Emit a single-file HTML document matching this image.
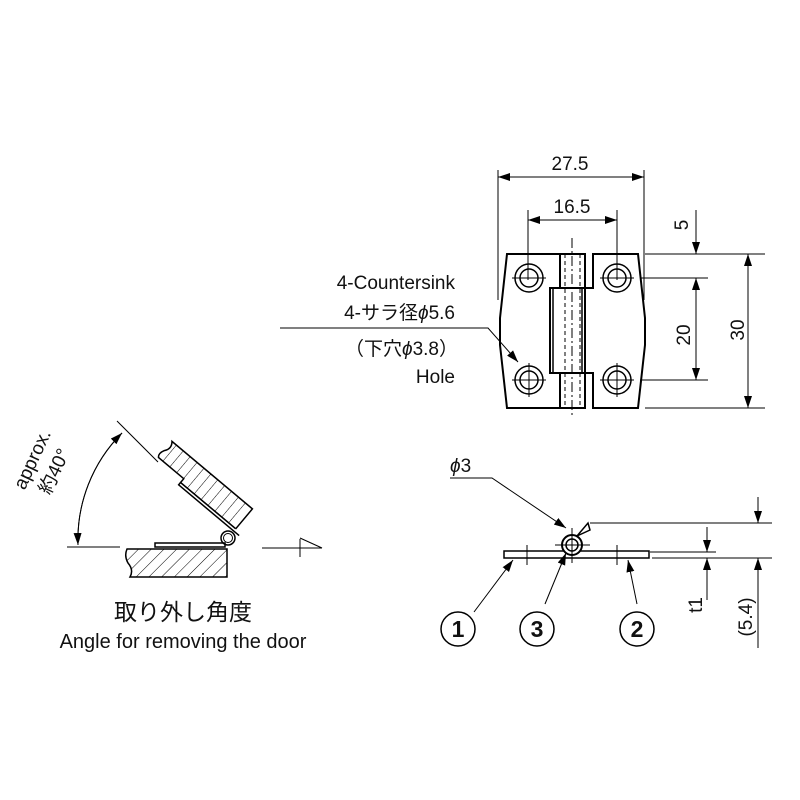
<!DOCTYPE html>
<html><head><meta charset="utf-8"><style>
html,body{margin:0;padding:0;background:#fff;}
svg{display:block;}
text{font-family:"Liberation Sans","Noto Sans CJK JP",sans-serif;fill:#111;}
</style></head><body>
<svg width="800" height="800" viewBox="0 0 800 800" xmlns="http://www.w3.org/2000/svg">
<defs>
<marker id="ar" markerWidth="12" markerHeight="8" refX="12" refY="4" orient="auto" markerUnits="userSpaceOnUse"><path d="M0,0 L12,4 L0,8 Z" fill="#000"/></marker>
<pattern id="hb" patternUnits="userSpaceOnUse" width="9" height="9" patternTransform="rotate(45)"><line x1="0" y1="0" x2="0" y2="9" stroke="#000" stroke-width="1"/></pattern>
<pattern id="hd" patternUnits="userSpaceOnUse" width="9" height="9" patternTransform="rotate(0)"><line x1="0" y1="0" x2="0" y2="9" stroke="#000" stroke-width="1"/></pattern>
</defs>
<g fill="none" stroke="#000" stroke-width="1">
<line x1="498" y1="170" x2="498" y2="300"/>
<line x1="644" y1="170" x2="644" y2="300"/>
<line x1="528" y1="210" x2="528" y2="280"/>
<line x1="617" y1="210" x2="617" y2="280"/>
<line x1="528" y1="220" x2="617" y2="220" marker-end="url(#ar)"/>
<line x1="617" y1="220" x2="528" y2="220" marker-end="url(#ar)"/>
<line x1="498" y1="177" x2="644" y2="177" marker-end="url(#ar)"/>
<line x1="644" y1="177" x2="498" y2="177" marker-end="url(#ar)"/>
<path stroke-width="2" d="M507,254 L560,254 L560,288 L550,288 L550,373 L560,373 L560,408 L507,408 L500,345 L500,318 Z"/>
<path stroke-width="2" d="M593,254 L638,254 L645,318 L645,345 L638,408 L593,408 L593,373 L585,373 L585,288 L593,288 Z"/>
<rect stroke-width="2" x="560" y="254" width="25" height="34"/>
<rect stroke-width="2" x="560" y="373" width="25" height="35"/>
<rect stroke-width="1.5" x="553" y="288" width="29" height="85"/>
<line x1="565" y1="254" x2="565" y2="408" stroke-dasharray="4,3"/>
<line x1="580" y1="254" x2="580" y2="408" stroke-dasharray="4,3"/>
<line x1="572" y1="238" x2="572" y2="418" stroke-dasharray="10,3,2,3"/>
<g stroke-width="1.5">
<circle cx="529" cy="278" r="14"/><circle cx="529" cy="278" r="9"/>
<circle cx="617" cy="278" r="14"/><circle cx="617" cy="278" r="9"/>
<circle cx="529" cy="380" r="14"/><circle cx="529" cy="380" r="9"/>
<circle cx="617" cy="380" r="14"/><circle cx="617" cy="380" r="9"/>
</g>
<line x1="512" y1="380" x2="546" y2="380"/><line x1="529" y1="363" x2="529" y2="397"/>
<line x1="600" y1="380" x2="634" y2="380"/><line x1="617" y1="363" x2="617" y2="397"/>
<line x1="512" y1="278" x2="546" y2="278"/>
<line x1="600" y1="278" x2="634" y2="278"/>
<line x1="645" y1="254" x2="765" y2="254"/>
<line x1="640" y1="278" x2="708" y2="278"/>
<line x1="640" y1="380" x2="708" y2="380"/>
<line x1="645" y1="408" x2="765" y2="408"/>
<line x1="696" y1="210" x2="696" y2="254" marker-end="url(#ar)"/>
<line x1="696" y1="380" x2="696" y2="278" marker-end="url(#ar)"/>
<line x1="696" y1="278" x2="696" y2="380" marker-end="url(#ar)"/>
<line x1="748" y1="408" x2="748" y2="254" marker-end="url(#ar)"/>
<line x1="748" y1="254" x2="748" y2="408" marker-end="url(#ar)"/>
<polyline points="280,328 488,328 518,362" marker-end="url(#ar)"/>
<line x1="67" y1="547" x2="120" y2="547"/>
<path stroke-width="1.5" fill="url(#hb)" d="M127,549 L227,549 L227,577 L130,577 Q134,570 128,563 Q124,556 127,549 Z"/>
<rect stroke-width="1.5" fill="#fff" x="155" y="543" width="70" height="4"/>
<circle stroke-width="1.5" cx="228" cy="538" r="7"/>
<circle stroke-width="1" cx="228" cy="538" r="4.5"/>
<g transform="translate(228,538) rotate(-140)">
<path stroke-width="1.5" fill="url(#hd)" d="M0,12 L0,38 L105,38 Q100,32 105,26 Q108,20 105,17 L72,17 L72,12 Z"/>
<path stroke-width="1.5" fill="#fff" d="M-7,9 L72,9 L72,12 L0,12"/>
</g>
<line x1="117" y1="421" x2="158" y2="462"/>
<path d="M78,545 A151,151 0 0 1 122,433" marker-end="url(#ar)"/>
<path d="M122,433 A151,151 0 0 0 78,545" marker-end="url(#ar)"/>
<line x1="262" y1="548" x2="322" y2="548"/>
<line x1="300" y1="539" x2="300" y2="557"/>
<line x1="300" y1="538" x2="322" y2="548"/>
<rect stroke-width="1.5" x="504" y="551" width="145" height="7"/>
<circle stroke-width="2" fill="#fff" cx="572" cy="545" r="10"/>
<circle stroke-width="1.5" cx="572" cy="545" r="6"/>
<path stroke-width="1.5" d="M577,536 L588,523 L590,530 Z" fill="#fff"/>
<line x1="555" y1="545" x2="590" y2="545"/><line x1="572" y1="528" x2="572" y2="563"/>
<line x1="527" y1="545" x2="527" y2="565"/><line x1="617" y1="545" x2="617" y2="565"/>
<polyline points="450,478 492,478 566,528" marker-end="url(#ar)"/>
<line x1="590" y1="523" x2="772" y2="523"/>
<line x1="650" y1="552" x2="716" y2="552"/>
<line x1="652" y1="558" x2="772" y2="558"/>
<line x1="707" y1="527" x2="707" y2="552" marker-end="url(#ar)"/>
<line x1="707" y1="600" x2="707" y2="558" marker-end="url(#ar)"/>
<line x1="758" y1="497" x2="758" y2="523" marker-end="url(#ar)"/>
<line x1="758" y1="648" x2="758" y2="558" marker-end="url(#ar)"/>
<circle stroke-width="1.5" cx="458" cy="629" r="17"/>
<circle stroke-width="1.5" cx="537" cy="629" r="17"/>
<circle stroke-width="1.5" cx="637" cy="629" r="17"/>
<line x1="474" y1="612" x2="513" y2="560" marker-end="url(#ar)"/>
<line x1="545" y1="604" x2="566" y2="553" marker-end="url(#ar)"/>
<line x1="637" y1="604" x2="628" y2="560" marker-end="url(#ar)"/>
</g>
<g font-size="19">
<text x="570" y="170" text-anchor="middle">27.5</text>
<text x="572" y="213" text-anchor="middle">16.5</text>
<text transform="translate(688,225) rotate(-90)" text-anchor="middle">5</text>
<text transform="translate(690,335) rotate(-90)" text-anchor="middle">20</text>
<text transform="translate(744,330) rotate(-90)" text-anchor="middle">30</text>
<text x="455" y="289" text-anchor="end">4-Countersink</text>
<text x="455" y="319" text-anchor="end">4-サラ径<tspan font-style="italic">ϕ</tspan>5.6</text>
<text x="458" y="355" text-anchor="end">（下穴<tspan font-style="italic">ϕ</tspan>3.8）</text>
<text x="455" y="383" text-anchor="end">Hole</text>
<text x="450" y="472"><tspan font-style="italic">ϕ</tspan>3</text>
<text transform="translate(702,605) rotate(-90)" text-anchor="middle">t1</text>
<text transform="translate(752,617) rotate(-90)" text-anchor="middle">(5.4)</text>
<text transform="translate(38,462) rotate(-65)" text-anchor="middle">approx.</text>
<text transform="translate(60,474) rotate(-65)" text-anchor="middle">約40°</text>
</g>
<g font-size="23" font-weight="bold" text-anchor="middle">
<text x="458" y="637">1</text><text x="537" y="637">3</text><text x="637" y="637">2</text>
</g>
<text x="183" y="620" font-size="23" text-anchor="middle">取り外し角度</text>
<text x="183" y="648" font-size="20" text-anchor="middle">Angle for removing the door</text>
</svg>
</body></html>
